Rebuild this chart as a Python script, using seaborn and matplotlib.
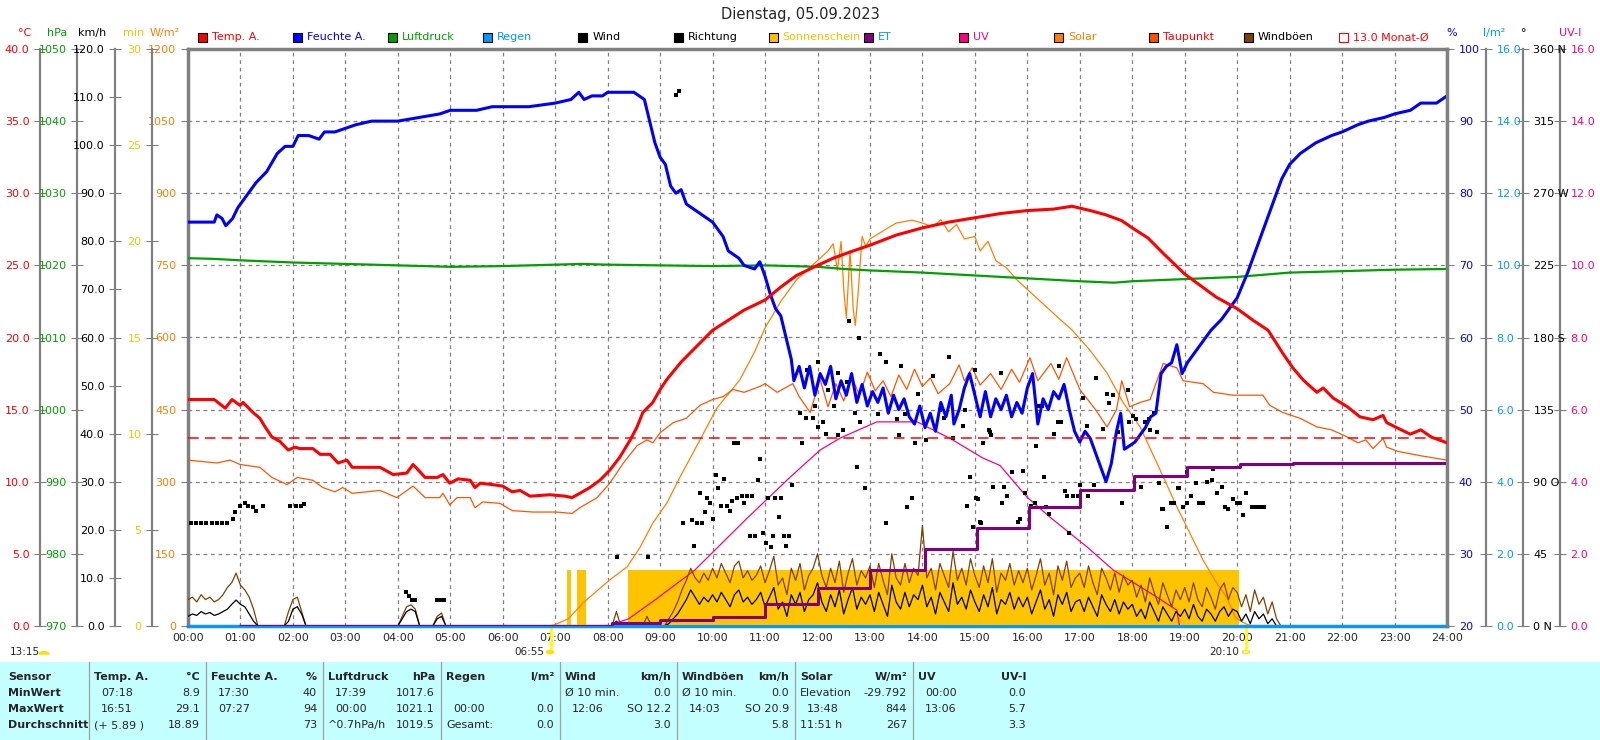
import numpy as np
import matplotlib
matplotlib.use('Agg')
import matplotlib.pyplot as plt
import seaborn as sns
from matplotlib.patches import Rectangle, Wedge, Circle
from matplotlib.transforms import blended_transform_factory

sns.set_style('white')
plt.rcParams['font.family'] = ['DejaVu Sans']
plt.rcParams['font.size'] = 8

# ---------------- data (hours since midnight) ----------------
temp_t = [0.0, 0.5, 0.71, 0.84, 0.99, 1.05, 1.24, 1.37, 1.47, 1.6, 1.75, 1.91, 2.04, 2.13, 2.38, 2.52,
          2.71, 2.86, 3.03, 3.13, 3.66, 3.76, 3.91, 4.17, 4.29, 4.52, 4.75, 4.86, 4.99, 5.15, 5.38, 5.47,
          5.57, 5.81, 6.0, 6.18, 6.33, 6.52, 6.9, 7.19, 7.32, 7.47, 7.66, 7.85, 8.04, 8.23, 8.43, 8.56,
          8.67, 8.86, 9.0, 9.13, 9.4, 9.7, 10.0, 10.3, 10.6, 11.0, 11.3, 11.6, 12.0, 12.3, 12.6, 13.0,
          13.5, 14.0, 14.5, 15.0, 15.5, 16.0, 16.5, 16.85, 17.2, 17.5, 17.8, 18.0, 18.3, 18.6, 19.0, 19.3,
          19.6, 20.0, 20.3, 20.59, 20.87, 21.06, 21.26, 21.52, 21.64, 21.83, 22.1, 22.34, 22.59, 22.78,
          22.85, 23.07, 23.3, 23.5, 23.7, 24.0]
temp_v = [15.7, 15.7, 15.1, 15.7, 15.3, 15.5, 14.8, 14.4, 13.8, 13.1, 12.8, 12.2, 12.4, 12.3, 12.3, 11.9,
          11.9, 11.3, 11.5, 11.0, 11.0, 10.8, 10.5, 10.6, 11.2, 10.3, 10.3, 10.5, 9.9, 10.2, 10.1, 9.6,
          9.9, 9.8, 9.7, 9.3, 9.4, 9.0, 9.1, 9.0, 8.9, 9.2, 9.6, 10.1, 10.8, 11.7, 12.9, 13.8,
          14.8, 15.5, 16.4, 17.1, 18.3, 19.4, 20.5, 21.2, 21.9, 22.6, 23.5, 24.3, 25.0, 25.5, 25.9, 26.4,
          27.1, 27.6, 28.0, 28.3, 28.6, 28.8, 28.9, 29.1, 28.8, 28.5, 28.1, 27.6, 26.9, 25.8, 24.4, 23.6,
          22.8, 22.0, 21.2, 20.5, 18.9, 17.9, 17.05, 16.2, 16.5, 15.8, 15.2, 14.5, 14.3, 14.6,
          14.1, 13.7, 13.3, 13.6, 13.1, 12.7]

dew_t = [0.0, 0.55, 0.8, 0.99, 1.37, 1.6, 1.89, 2.08, 2.38, 2.57, 2.8, 2.95, 3.13, 3.66, 3.98, 4.29,
         4.52, 4.8, 4.86, 4.99, 5.13, 5.38, 5.47, 5.62, 5.95, 6.18, 6.58, 7.03, 7.32, 7.47, 7.8, 8.04,
         8.3, 8.56, 8.75, 8.86, 9.0, 9.25, 9.5, 9.76, 10.0, 10.2, 10.39, 10.6, 10.9, 11.0, 11.23, 11.53,
         11.65, 11.86, 12.05, 12.2, 12.35, 12.5, 12.65, 12.8, 12.95, 13.1, 13.25, 13.4, 13.55, 13.7,
         13.85, 14.0, 14.15, 14.3, 14.52, 14.7, 14.8, 14.95, 15.1, 15.3, 15.5, 15.7, 15.85, 16.05, 16.2,
         16.45, 16.6, 16.75, 17.0, 17.3, 17.52, 17.7, 17.8, 17.95, 18.15, 18.34, 18.59, 18.85, 18.97,
         19.35, 19.55, 19.92, 20.49, 20.62, 20.87, 21.2, 21.52, 21.8, 22.1, 22.3, 22.45, 22.59, 22.78,
         22.85, 23.07, 23.5, 24.0]
dew_v = [11.5, 11.3, 11.5, 11.2, 11.0, 10.3, 9.8, 10.3, 10.1, 9.6, 9.3, 9.6, 9.2, 9.4, 8.9, 9.7,
         8.9, 8.9, 9.2, 8.4, 8.9, 8.9, 8.2, 8.6, 8.5, 8.0, 7.9, 7.9, 7.8, 8.2, 8.9, 9.9,
         11.3, 12.5, 12.9, 12.7, 13.4, 14.1, 14.4, 15.3, 15.7, 15.9, 16.4, 16.2, 16.6, 16.8, 16.2, 16.8,
         15.9, 14.8, 17.1, 15.2, 16.8, 15.6, 17.3, 16.0, 17.6, 16.3, 17.0, 15.9, 17.4, 16.4,
         17.8, 16.6, 17.2, 16.1, 16.8, 18.1, 17.0, 17.9, 16.7, 17.5, 16.4, 17.8, 16.9, 18.6, 17.0,
         18.2, 17.1, 18.6, 16.4, 15.0, 13.8, 15.0, 17.0, 15.2, 15.5, 15.7, 18.2, 17.9, 17.0,
         16.8, 16.2, 16.0, 16.0, 15.3, 14.8, 14.4, 13.8, 13.6, 13.1, 12.7, 12.9, 12.3, 13.0,
         12.4, 12.1, 11.8, 11.5]

hum_t = [0.0, 0.5, 0.55, 0.65, 0.72, 0.85, 0.95, 1.1, 1.3, 1.5, 1.7, 1.85, 2.0, 2.1, 2.3, 2.5, 2.6,
         2.8, 3.0, 3.2, 3.5, 4.0, 4.4, 4.8, 5.0, 5.5, 5.8, 6.5, 7.0, 7.3, 7.45, 7.55, 7.7, 7.9, 8.0, 8.5,
         8.7, 8.8, 8.9, 9.0, 9.1, 9.2, 9.3, 9.4, 9.5, 9.6, 9.8, 10.0, 10.2, 10.3, 10.5, 10.6, 10.8, 10.9,
         11.0, 11.1, 11.2, 11.3, 11.4, 11.5, 11.55, 11.65, 11.75, 11.85, 11.95, 12.05, 12.15, 12.25,
         12.35, 12.45, 12.55, 12.65, 12.75, 12.85, 12.95, 13.05, 13.15, 13.25, 13.35, 13.45, 13.55,
         13.65, 13.75, 13.85, 13.95, 14.05, 14.15, 14.25, 14.35, 14.45, 14.55, 14.6, 14.7, 14.8, 14.9,
         15.0, 15.1, 15.2, 15.3, 15.4, 15.5, 15.6, 15.7, 15.8, 15.9, 16.0, 16.1, 16.2, 16.3, 16.4, 16.5,
         16.6, 16.7, 16.8, 16.9, 17.0, 17.1, 17.2, 17.3, 17.4, 17.5, 17.6, 17.7, 17.78, 17.85, 17.95,
         18.05, 18.15, 18.25, 18.35, 18.45, 18.55, 18.65, 18.75, 18.85, 18.95, 19.05, 19.2, 19.35, 19.5,
         19.7, 19.9, 20.0, 20.2, 20.4, 20.5, 20.7, 20.85, 21.0, 21.2, 21.5, 21.8, 22.0, 22.3, 22.5, 22.8,
         23.0, 23.3, 23.5, 23.8, 24.0]
hum_v = [76, 76, 77, 76.5, 75.5, 76.5, 78, 79.5, 81.5, 83, 85.5, 86.5, 86.5, 88, 88, 87.5, 88.5,
         88.5, 89, 89.5, 90, 90, 90.5, 91, 91.5, 91.5, 92, 92, 92.5, 93, 94, 93, 93.5, 93.5, 94, 94,
         93, 90, 87, 85, 84, 81, 80, 80.5, 78.5, 78, 77, 76, 74, 72, 71, 70, 69.5, 70.5,
         68.5, 66, 64, 63, 60, 57, 54, 56, 53, 56, 52, 55, 53.5, 56,
         51.5, 54, 52, 55, 51, 53.5, 50.5, 52.5, 51, 53, 49.5, 52, 50,
         51.5, 49, 48, 50.5, 47.5, 49.5, 47, 51, 49, 52, 48, 50, 53, 55,
         52, 49, 52.5, 49, 51.5, 50, 52, 49, 51, 49.5, 53, 55, 48, 51.5, 50, 52.5,
         51.5, 53.5, 50, 47, 45.5, 47, 46, 44, 42, 40, 42.5, 47, 49.5, 44.5, 45,
         45.5, 46.5, 47.5, 49, 49.5, 55, 56, 56.5, 59, 55, 56.5, 58, 59.5, 61,
         62.5, 64.5, 65.5, 69, 73, 75, 79, 82, 84, 85.5, 87, 88, 88.5, 89.5, 90, 90.5,
         91, 91.5, 92.5, 92.5, 93.5]

press_t = [0, 0.5, 1, 2, 3, 4, 5, 6, 7, 7.5, 8, 9, 10, 11, 12, 12.5, 13, 14, 15, 16, 17, 17.65,
           18, 19, 20, 20.5, 21, 22, 23, 24]
press_v = [1021.0, 1020.9, 1020.7, 1020.4, 1020.2, 1020.0, 1019.8, 1019.9, 1020.1, 1020.2, 1020.1,
           1020.0, 1019.9, 1020.0, 1019.8, 1019.5, 1019.3, 1019.0, 1018.6, 1018.2, 1017.8, 1017.6,
           1017.8, 1018.1, 1018.4, 1018.7, 1019.0, 1019.2, 1019.4, 1019.5]

solar_t = [6.9, 7.0, 7.25, 7.53, 8.04, 8.37, 8.62, 8.86, 9.13, 9.38, 9.76, 10.08, 10.52, 10.8, 11.0,
           11.3, 11.6, 12.0, 12.2, 12.3, 12.38, 12.45, 12.5, 12.55, 12.62, 12.68, 12.72, 12.78, 12.85,
           12.92, 13.0, 13.3, 13.5, 13.8, 14.0, 14.2, 14.35, 14.5, 14.65, 14.8, 15.0, 15.1, 15.25, 15.4,
           15.6, 15.8, 16.0, 16.3, 16.6, 16.85, 17.19, 17.52, 17.83, 18.15, 18.47, 18.85, 19.04, 19.35,
           19.61, 19.8, 19.96, 20.1, 20.2, 20.3]
solar_v = [0, 3, 15, 48, 96, 123, 164, 214, 256, 310, 387, 453, 512, 570, 620,
           675, 720, 760, 780, 795, 740, 800, 700, 640, 780, 660, 625, 700, 810,
           790, 805, 825, 838, 844, 838, 830, 845, 820, 835, 805, 810, 780, 800, 760,
           745, 720, 700, 670, 640, 616, 574, 526, 464, 414, 339, 248, 206, 137,
           89, 60, 19, 8, 3, 0]

uv_t = [8.08, 8.2, 8.4, 8.9, 9.66, 10.68, 11.48, 12.05, 12.43, 13.13, 13.9, 14.53, 15.15, 15.48,
        15.99, 16.43, 17.14, 17.64, 18.47, 18.85, 18.9]
uv_v = [0, 0.1, 0.2, 0.72, 1.55, 3.02, 4.13, 4.88, 5.21, 5.66, 5.66, 5.2, 4.66, 4.45,
        3.58, 3.02, 2.19, 1.55, 0.8, 0.44, 0]

et_t = [1.0, 8.08, 9.0, 10.0, 11.0, 12.0, 13.0, 14.05, 15.04, 16.03, 17.0, 18.03, 19.04, 20.05, 21.06, 24.0]
et_v = [0, 0.07, 0.17, 0.25, 0.61, 1.05, 1.55, 2.14, 2.72, 3.30, 3.77, 4.16, 4.41, 4.49, 4.52, 4.52]

rain_t = [0, 24]
rain_v = [0.0, 0.0]

sun_start = [7.23, 7.42, 8.38]
sun_end = [7.30, 7.58, 20.03]
sun_min = [2.9, 2.9, 2.9]

# 5-minute wind / gust values (km/h), one row per hour, 00:00 .. 23:55
wind_v = [2.0, 2.5, 2.2, 3.0, 2.5, 2.8, 2.2, 2.5, 3.0, 3.5, 4.5, 5.4,
          4.5, 4.0, 2.5, 1.0, 0, 0, 0, 0, 0, 0, 0, 1.0,
          3.5, 4.0, 2.5, 0, 0, 0, 0, 0, 0, 0, 0, 0,
          0, 0, 0, 0, 0, 0, 0, 0, 0, 0, 0, 0,
          0, 1.5, 3.0, 3.5, 3.0, 0, 0, 0, 0, 1.5, 2.0, 0,
          0, 0, 0, 0, 0, 0, 0, 0, 0, 0, 0, 0,
          0, 0, 0, 0, 0, 0, 0, 0, 0, 0, 0, 0,
          0, 0, 0, 0, 0, 0, 0, 0, 0, 0, 0, 0,
          0, 0, 1.0, 0, 0, 0, 0, 0, 0, 0.5, 0, 0,
          0, 0, 0.5, 1.5, 2.5, 4.0, 5.5, 7.5, 6.0, 4.5, 6.0, 5.0,
          6.5, 5.0, 7.0, 5.5, 4.0, 6.5, 7.5, 5.0, 6.0, 4.5, 5.5, 7.0,
          4.0, 6.0, 8.0, 3.5, 5.0, 2.0, 6.5, 4.5, 7.0, 3.0, 5.5, 6.5,
          9.0, 5.0, 3.0, 6.5, 4.0, 7.5, 2.5, 5.5, 8.0, 3.5, 6.0, 4.5,
          6.5, 3.0, 7.0, 4.5, 2.0, 8.5, 5.0, 3.5, 7.0, 4.0, 6.5, 5.5,
          8.5, 4.0, 6.0, 2.5, 7.0, 5.0, 3.0, 9.0, 4.5, 6.0, 3.5, 7.5,
          5.0, 3.0, 6.5, 4.0, 8.0, 2.5, 5.5, 4.5, 7.0, 3.5, 6.0, 4.0,
          6.0, 2.5, 5.0, 7.5, 3.5, 5.5, 2.0, 6.5, 4.5, 7.0, 3.0, 5.0,
          5.5, 3.0, 6.0, 4.0, 2.0, 6.5, 4.5, 3.0, 5.5, 2.5, 5.0, 3.5,
          4.5, 2.0, 3.5, 1.5, 5.0, 3.0, 1.0, 4.0, 2.5, 1.0, 3.0, 2.0,
          3.5, 1.5, 4.5, 2.0, 1.0, 3.5, 2.5, 1.0, 3.0, 4.0, 2.0, 3.5,
          3.0, 1.0, 2.5, 0.5, 3.0, 1.5, 2.5, 0.5, 1.5, 0, 0, 0,
          0, 0, 0, 0, 0, 0, 0, 0, 0, 0, 0, 0,
          0, 0, 0, 0, 0, 0, 0, 0, 0, 0, 0, 0,
          0, 0, 0, 0, 0, 0, 0, 0, 0, 0, 0, 0]
gust_v = [5.5, 6.0, 5.0, 6.5, 5.5, 6.0, 5.0, 5.5, 6.5, 8.0, 9.0, 11.0,
          8.5, 7.5, 6.0, 3.5, 0, 0, 0, 0, 0, 0, 0, 3.0,
          5.5, 6.0, 3.0, 0, 0, 0, 0, 0, 0, 0, 0, 0,
          0, 0, 0, 0, 0, 0, 0, 0, 0, 0, 0, 0,
          0, 2.0, 4.0, 4.4, 3.5, 0, 0, 0, 0, 2.0, 2.7, 0,
          0, 0, 0, 0, 0, 0, 0, 0, 0, 0, 0, 0,
          0, 0, 0, 0, 0, 0, 0, 0, 0, 0, 0, 0,
          0, 0, 0, 0, 0, 0, 0, 0, 0, 0, 0, 0,
          0, 0, 3.0, 0, 0, 0, 0, 0, 0, 2.0, 0, 0,
          0, 0, 1.5, 3.0, 5.0, 7.5, 9.5, 12.0, 10.0, 9.0, 11.0, 9.5,
          12.0, 10.0, 13.0, 11.0, 9.0, 12.5, 13.5, 10.0, 11.5, 9.5, 10.5, 12.5,
          9.0, 11.5, 14.5, 8.5, 10.0, 6.5, 12.0, 9.5, 13.0, 7.5, 10.5, 12.0,
          15.0, 10.5, 8.0, 12.0, 9.0, 13.5, 7.0, 11.0, 14.0, 8.5, 11.5, 10.0,
          12.5, 8.0, 13.0, 9.5, 6.5, 15.0, 10.0, 8.5, 13.0, 9.0, 12.0, 10.5,
          20.9, 10.0, 12.0, 7.5, 13.0, 10.5, 8.0, 15.5, 9.5, 12.0, 8.5, 14.0,
          10.5, 8.0, 12.5, 9.0, 14.0, 7.0, 11.0, 9.5, 13.0, 8.5, 11.5, 9.0,
          12.0, 7.5, 10.5, 14.0, 8.5, 11.0, 6.5, 12.5, 9.5, 13.5, 8.0, 10.0,
          11.0, 8.0, 12.5, 9.0, 6.5, 12.0, 10.0, 7.5, 11.0, 7.0, 10.5, 8.5,
          9.5, 6.0, 8.5, 5.0, 10.0, 7.0, 4.5, 9.0, 6.5, 4.0, 7.5, 5.5,
          8.0, 5.0, 9.0, 5.5, 4.0, 8.0, 6.0, 3.5, 7.5, 9.0, 5.5, 8.0,
          7.0, 4.0, 6.5, 3.0, 7.5, 4.5, 6.0, 2.5, 5.0, 1.5, 0, 0,
          0, 0, 0, 0, 0, 0, 0, 0, 0, 0, 0, 0,
          0, 0, 0, 0, 0, 0, 0, 0, 0, 0, 0, 0,
          0, 0, 0, 0, 0, 0, 0, 0, 0, 0, 0, 0]

dir_t = [0.05, 0.15, 0.25, 0.35, 0.45, 0.55, 0.65, 0.75, 0.85, 0.9, 1.0, 1.08, 1.14, 1.24, 1.3, 1.43,
         1.95, 2.05, 2.15, 2.21, 4.15, 4.22, 4.27, 4.33, 4.75, 4.82, 4.88,
         8.18, 8.77, 9.30, 9.36, 9.44, 9.61, 9.65, 9.70, 9.76, 9.80, 9.86, 9.89, 9.95, 10.01, 10.06,
         10.10, 10.16, 10.22, 10.27, 10.33, 10.37, 10.41, 10.47, 10.48, 10.56, 10.60, 10.66, 10.71,
         10.75, 10.81, 10.87, 10.90, 10.96, 11.02, 11.06, 11.11, 11.15, 11.19, 11.27, 11.30, 11.36,
         11.40, 11.46, 11.51, 11.67, 11.70, 11.78, 11.8, 11.91, 11.95, 12.0, 12.01, 12.10, 12.16,
         12.20, 12.31, 12.39, 12.4, 12.49, 12.56, 12.6, 12.71, 12.75, 12.8, 12.81, 12.91, 13.15,
         13.2, 13.3, 13.31, 13.52, 13.55, 13.6, 13.67, 13.71, 13.80, 13.86, 13.92, 14.07, 14.2,
         14.33, 14.41, 14.5, 14.58, 14.77, 14.81, 14.85, 14.91, 14.96, 15.0, 15.02, 15.06, 15.10,
         15.12, 15.15, 15.27, 15.29, 15.31, 15.35, 15.5, 15.52, 15.55, 15.61, 15.71, 15.82, 15.86,
         15.92, 15.96, 16.07, 16.15, 16.16, 16.20, 16.28, 16.32, 16.36, 16.41, 16.51, 16.58, 16.6,
         16.64, 16.72, 16.76, 16.79, 16.87, 16.97, 17.00, 17.06, 17.14, 17.15, 17.27, 17.31, 17.44,
         17.52, 17.56, 17.63, 17.73, 17.80, 17.92, 17.93, 18.01, 18.07, 18.17, 18.24, 18.32, 18.34,
         18.41, 18.47, 18.51, 18.57, 18.59, 18.66, 18.74, 18.80, 18.87, 18.89, 18.97, 19.04, 19.05,
         19.12, 19.21, 19.27, 19.35, 19.42, 19.52, 19.54, 19.61, 19.71, 19.77, 19.82, 19.92, 20.00,
         20.05, 20.11, 20.17, 20.28, 20.36, 20.43, 20.51]
dir_v = [64, 64, 64, 64, 64, 64, 64, 64, 67, 71, 75, 77, 75, 74, 72, 75,
         75, 75, 75, 76, 21, 19, 16, 16, 16, 16, 16,
         43, 43, 331, 334, 64, 66, 50, 64, 83, 64, 71, 80, 77, 67, 94,
         86, 75, 92, 75, 72, 78, 114, 80, 114, 81, 77, 81, 56,
         81, 56, 91, 104, 58, 52, 80, 49, 56, 80, 68, 80, 56,
         50, 56, 88, 133, 114, 130, 160, 130, 137, 165, 124, 127, 120,
         147, 137, 119, 158, 122, 152, 190, 133, 99, 180, 127, 86, 132,
         170, 165, 64, 129, 119, 162, 132, 74, 80, 114, 145, 116, 156,
         135, 130, 168, 117, 125, 135, 75, 93, 62, 160, 80, 79, 65,
         64, 114, 122, 121, 119, 87, 158, 77, 87, 81, 96, 65, 67,
         97, 83, 75, 77, 112, 137, 137, 93, 74, 70, 120, 127, 162,
         127, 84, 81, 58, 81, 81, 88, 142, 125, 81, 88, 155, 123,
         145, 139, 144, 121, 77, 147, 127, 131, 129, 87, 127, 129, 122,
         133, 121, 89, 73, 73, 62, 77, 77, 86, 86, 74, 77, 96,
         81, 89, 77, 77, 90, 91, 98, 83, 87, 74, 73, 79, 77,
         77, 69, 83, 74, 74, 74, 74]

month_avg = 13.0

hour_labels = [f'{h:02d}:00' for h in range(25)]
deg_labels = ['0 N', '45', '90 O', '135', '180 S', '225', '270 W', '315', '360 N']

tab_cols = ['Temp. A.', 'Feuchte A.', 'Luftdruck', 'Regen', 'Wind', 'Windböen', 'Solar', 'UV']
tab_units = ['°C', '%', 'hPa', 'l/m²', 'km/h', 'km/h', 'W/m²', 'UV-I']
tab_min_l = ['07:18', '17:30', '17:39', '', 'Ø 10 min.', 'Ø 10 min.', 'Elevation', '00:00']
tab_min_r = ['8.9', '40', '1017.6', '', '0.0', '0.0', '-29.792', '0.0']
tab_max_l = ['16:51', '07:27', '00:00', '00:00', '12:06', '14:03', '13:48', '13:06']
tab_max_r = ['29.1', '94', '1021.1', '0.0', 'SO 12.2', 'SO 20.9', '844', '5.7']
tab_avg_l = ['(+ 5.89 )', '', '^0.7hPa/h', 'Gesamt:', '', '', '11:51 h', '']
tab_avg_r = ['18.89', '73', '1019.5', '0.0', '3.0', '5.8', '267', '3.3']

leg_labels = ['Temp. A.', 'Feuchte A.', 'Luftdruck', 'Regen', 'Wind', 'Richtung', 'Sonnenschein',
              'ET', 'UV', 'Solar', 'Taupunkt', 'Windböen', '13.0 Monat-Ø']
leg_box = ['#FF0000', '#0000FF', '#00A000', '#0099FF', '#000000', '#000000', '#FFC000',
           '#800080', '#FF0080', '#FF8000', '#FF5000', '#804000', 'white']
leg_txt = ['#FF0000', '#0000FF', '#00A000', '#0099FF', '#000000', '#000000', '#FFC000',
           '#0099FF', '#FF0080', '#FF8000', '#FF0000', '#000000', '#FF0000']

# ---------------- figure ----------------
W, H = 1600, 740
fx = lambda x: x / W
fy = lambda y: 1 - y / H
GRAY = '#808080'
GOLD = '#FFC400'

fig = plt.figure(figsize=(16, 7.4), dpi=100)
ax = fig.add_axes([fx(188), fy(626), fx(1447 - 188), (626 - 49) / H])
ax.set_xlim(0, 24); ax.set_ylim(0, 1200)
ax.set_yticks(np.arange(0, 1201, 150))
ax.set_yticklabels([f'{v:.0f}' for v in np.arange(0, 1201, 150)])
ax.tick_params(axis='y', colors=GRAY, labelcolor='#FF8000', length=5, labelsize=8)
ax.set_xticks(range(25)); ax.set_xticklabels(hour_labels)
ax.tick_params(axis='x', length=0, pad=5, labelsize=8)
ax.grid(True, color=GRAY, ls=(0, (3, 3)), lw=0.9)
for s in ['left', 'top', 'right', 'bottom']:
    ax.spines[s].set_color(GRAY); ax.spines[s].set_linewidth(2.5)


def add_axis(side, off_px, lo, hi, step, fmt, color, labels=None, show=True):
    t = ax.twinx()
    t.set_xlim(0, 24); t.set_ylim(lo, hi)
    for s in t.spines.values():
        s.set_visible(False)
    if not show:
        t.set_yticks([])
        return t
    sp = t.spines[side]
    sp.set_visible(True)
    sp.set_position(('outward', off_px * 0.72))
    sp.set_color(GRAY); sp.set_linewidth(1.6)
    if side == 'left':
        t.yaxis.tick_left()
    else:
        t.yaxis.tick_right()
    ticks = np.arange(lo, hi + step / 2, step)
    t.set_yticks(ticks)
    t.set_yticklabels(labels if labels else [fmt.format(v) for v in ticks])
    t.tick_params(axis='y', colors=GRAY, labelcolor=color, length=8 if off_px else 5,
                  direction='inout' if off_px else 'out', labelsize=8)
    return t


ax_min = add_axis('left', 36, 0, 30, 5, '{:.0f}', '#FFC000')
for s, e, v in zip(sun_start, sun_end, sun_min):
    ax_min.fill_between([s, e], [v, v], 0, color=GOLD, lw=0)

ax_sol = add_axis('left', 0, 0, 1200, 150, '', '', show=False)
sns.lineplot(x=solar_t, y=solar_v, ax=ax_sol, color='#FF8000', lw=0.9, estimator=None, sort=False)

ax_c = add_axis('left', 148, 0, 40, 5, '{:.1f}', '#FF0000')
sns.lineplot(x=dew_t, y=dew_v, ax=ax_c, color='#FF5500', lw=0.9, estimator=None, sort=False)

ax_hpa = add_axis('left', 111, 970, 1050, 10, '{:.0f}', '#00A000')
sns.lineplot(x=press_t, y=press_v, ax=ax_hpa, color='#00A000', lw=1.6, estimator=None, sort=False)

ax_uv = add_axis('right', 113, 0, 16, 2, '{:.1f}', '#FF0080')
sns.lineplot(x=uv_t, y=uv_v, ax=ax_uv, color='#FF0080', lw=0.9, estimator=None, sort=False)

ax_kmh = add_axis('left', 73, 0, 120, 10, '{:.1f}', '#000000')
wind_t = np.arange(len(wind_v)) / 12
sns.lineplot(x=wind_t, y=gust_v, ax=ax_kmh, color='#804000', lw=0.9, estimator=None, sort=False)
sns.lineplot(x=wind_t, y=wind_v, ax=ax_kmh, color='#000000', lw=0.9, estimator=None, sort=False)

ax_deg = add_axis('right', 76, 0, 360, 45, '', '#000000', labels=deg_labels)
sns.scatterplot(x=dir_t, y=dir_v, ax=ax_deg, marker='s', s=5, color='black', linewidth=0)

ax_lm = add_axis('right', 39, 0, 16, 2, '{:.1f}', '#0099FF')
sns.lineplot(x=rain_t, y=rain_v, ax=ax_lm, color='#0099FF', lw=2.2, estimator=None, sort=False, clip_on=False)
sns.lineplot(x=et_t, y=et_v, ax=ax_lm, color='#800080', lw=2.2, estimator=None, sort=False,
             drawstyle='steps-post')

ax_pct = add_axis('right', 0, 20, 100, 10, '{:.0f}', '#0000FF')
sns.lineplot(x=hum_t, y=hum_v, ax=ax_pct, color='#0000FF', lw=2.2, estimator=None, sort=False)

ax_t = ax_c.twinx()
ax_t.set_ylim(0, 40); ax_t.set_yticks([])
for s in ax_t.spines.values():
    s.set_visible(False)
sns.lineplot(x=temp_t, y=temp_v, ax=ax_t, color='#FF0000', lw=2.2, estimator=None, sort=False)
ax_t.axhline(month_avg, color='#FF0000', lw=1.1, dashes=(7, 4))

for a in fig.axes:
    a.set_xlabel(''); a.set_ylabel('')

# unit headers
for txt, x, c in [('°C', 25, '#FF0000'), ('hPa', 57, '#00A000'), ('km/h', 92, '#000000'),
                  ('min', 134, '#FFC000'), ('W/m²', 165, '#FF8000'), ('%', 1452, '#0000FF'),
                  ('l/m²', 1494, '#0099FF'), ('°', 1524, '#000000'), ('UV-I', 1570, '#FF0080')]:
    fig.text(fx(x), fy(33), txt, color=c, ha='center', va='center', fontsize=8)

fig.text(fx(800), fy(15), 'Dienstag, 05.09.2023', ha='center', va='center', fontsize=10.5)

# legend row
for i, (lab, bc, tc) in enumerate(zip(leg_labels, leg_box, leg_txt)):
    x0 = 198 + 95.1 * i
    edge = '#FF0000' if bc == 'white' else 'black'
    fig.patches.append(Rectangle((fx(x0), fy(42)), 9 / W, 9 / H, transform=fig.transFigure,
                                 facecolor=bc, edgecolor=edge, lw=0.8))
    fig.text(fx(x0 + 14), fy(37.5), lab, color=tc, ha='left', va='center', fontsize=8)

# sunrise / sunset marks
trans = blended_transform_factory(ax.transData, ax.transAxes)
for h in [6 + 55 / 60, 20 + 10 / 60]:
    ax.plot([h, h], [0, -0.038], transform=trans, color='#FFFF00', lw=2, clip_on=False)
fig.text(fx(544), fy(652), '06:55', ha='right', va='center', fontsize=7.5)
fig.patches.append(Circle((fx(550), fy(652)), 3.5 / W, transform=fig.transFigure, color='#FFE000'))
fig.text(fx(1239), fy(652), '20:10', ha='right', va='center', fontsize=7.5)
fig.patches.append(Circle((fx(1246), fy(652)), 3.5 / W, transform=fig.transFigure,
                          facecolor='none', edgecolor='#FFE000', lw=1))
fig.text(fx(10), fy(652), '13:15', ha='left', va='center', fontsize=7.5)
fig.patches.append(Wedge((fx(44), fy(654)), 5 / W, 0, 180, transform=fig.transFigure, color='#FFE000'))

# bottom table
fig.patches.append(Rectangle((0, 0), 1, fy(662), transform=fig.transFigure, facecolor='#C4FFFF',
                             edgecolor='none'))
seps = [89, 206, 323, 441, 560, 677, 795, 913]
for x in seps:
    fig.add_artist(plt.Line2D([fx(x), fx(x)], [0, fy(662)], color='#A0A0A0', lw=0.9))
rows_y = [677, 693, 709, 725]
fig.text(fx(8), fy(rows_y[0]), 'Sensor', fontweight='bold', va='center', fontsize=8)
for lab, y in zip(['MinWert', 'MaxWert', 'Durchschnitt'], rows_y[1:]):
    fig.text(fx(8), fy(y), lab, fontweight='bold', va='center', fontsize=8)
for i in range(len(tab_cols)):
    left = seps[i] + 5
    right = (seps[i + 1] if i + 1 < len(seps) else 1032) - 6
    fig.text(fx(left), fy(rows_y[0]), tab_cols[i], fontweight='bold', va='center', fontsize=8)
    fig.text(fx(right), fy(rows_y[0]), tab_units[i], fontweight='bold', va='center', ha='right', fontsize=8)
    for ls, rs, y in zip([tab_min_l[i], tab_max_l[i], tab_avg_l[i]],
                         [tab_min_r[i], tab_max_r[i], tab_avg_r[i]], rows_y[1:]):
        indent = 7 if (len(ls) == 5 and ls[2] == ':') else 0
        fig.text(fx(left + indent), fy(y), ls, va='center', fontsize=8)
        fig.text(fx(right), fy(y), rs, va='center', ha='right', fontsize=8)

fig.savefig('out.png', dpi=100)
